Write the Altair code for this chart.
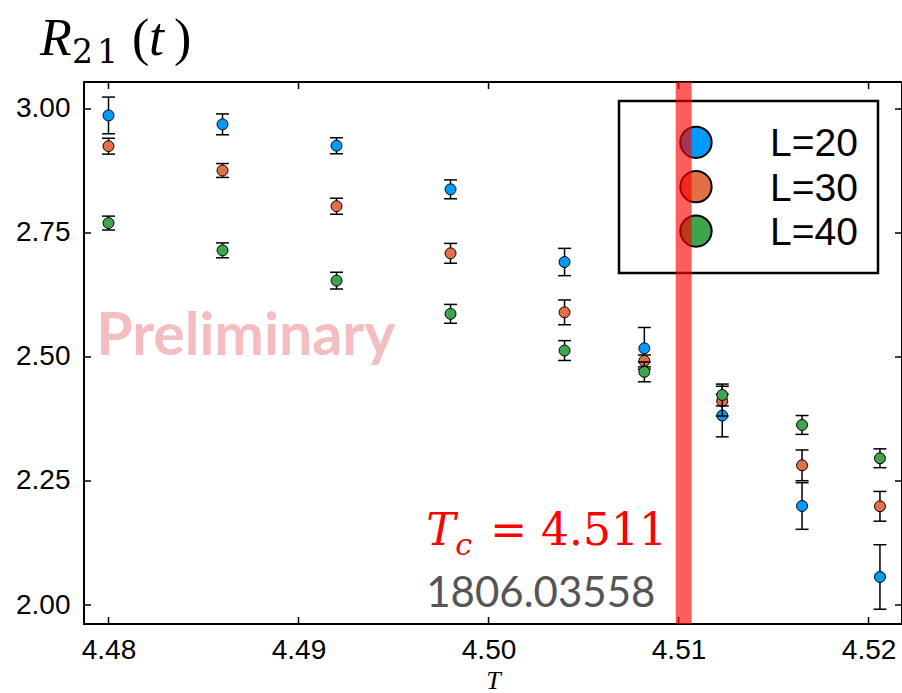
import altair as alt
import pandas as pd

# ---- data ----
T_vals = [4.480, 4.486, 4.492, 4.498, 4.504, 4.5082, 4.5123, 4.5165, 4.5206]
L20 = [2.987, 2.969, 2.926, 2.838, 2.6915, 2.5175, 2.382, 2.1996, 2.0565]
L20_err = [0.037, 0.021, 0.016, 0.019, 0.0275, 0.042, 0.043, 0.047, 0.065]
L30 = [2.925, 2.876, 2.804, 2.709, 2.590, 2.492, 2.411, 2.2816, 2.199]
L30_err = [0.016, 0.014, 0.016, 0.020, 0.025, 0.012, 0.030, 0.031, 0.030]
L40 = [2.770, 2.715, 2.654, 2.587, 2.513, 2.470, 2.4234, 2.363, 2.2958]
L40_err = [0.014, 0.015, 0.017, 0.019, 0.020, 0.020, 0.022, 0.019, 0.019]
series_names = ["L=20", "L=30", "L=40"]
series_colors = ["#009AFA", "#E36F47", "#3EA44E"]
x_ticks = [4.48, 4.49, 4.50, 4.51, 4.52]
y_ticks = [2.00, 2.25, 2.50, 2.75, 3.00]
band_T = [4.50985, 4.51069]

W, H = 818, 542

rows = []
for name, vals, errs in zip(series_names, [L20, L30, L40], [L20_err, L30_err, L40_err]):
    for t, v, e in zip(T_vals, vals, errs):
        rows.append({"T": t, "R": v, "lo": v - e, "hi": v + e, "L": name})
df = pd.DataFrame(rows)

xscale = alt.Scale(domain=[4.47871, 4.52176], nice=False, zero=False)
yscale = alt.Scale(domain=[1.9617, 3.0544], nice=False, zero=False)
cscale = alt.Scale(domain=series_names, range=series_colors)

xaxis = alt.Axis(values=x_ticks, format=".2f", title="T", labelPadding=12,
                 titleFont="Liberation Serif", titleFontStyle="italic",
                 titleFontWeight="normal", titleFontSize=26, titlePadding=3,
                 labelFlush=False, labelOverlap=False)
yaxis = alt.Axis(values=y_ticks, format=".2f", title=None, labelPadding=14,
                 labelFlush=False, labelOverlap=False)

def X(field):
    return alt.X(field, scale=xscale, axis=xaxis)

def Y(field):
    return alt.Y(field, scale=yscale, axis=yaxis)

base = alt.Chart(df)
layers = []
for name in series_names:
    sub = base.transform_filter(alt.datum.L == name)
    layers.append(sub.mark_rule(color="black", strokeWidth=1.5).encode(
        x=X("T:Q"), y=Y("lo:Q"), y2="hi:Q"))
    for f in ["lo", "hi"]:
        layers.append(sub.mark_tick(color="black", orient="horizontal", size=13,
                                    thickness=1.5, opacity=1).encode(
            x=X("T:Q"), y=Y(f + ":Q")))
    layers.append(sub.mark_circle(size=120, stroke="black", strokeWidth=1,
                                  opacity=1).encode(
        x=X("T:Q"), y=Y("R:Q"),
        color=alt.Color("L:N", scale=cscale, legend=None)))

# inward ticks on all four sides
xt = alt.Chart(pd.DataFrame({"T": x_ticks}))
yt = alt.Chart(pd.DataFrame({"R": y_ticks}))
for y0, y1 in [(H - 7, H), (0, 7)]:
    layers.append(xt.mark_rule(color="black", strokeWidth=1.5).encode(
        x=X("T:Q"), y=alt.value(y0), y2=alt.value(y1)))
for x0, x1 in [(0, 7), (W - 7, W)]:
    layers.append(yt.mark_rule(color="black", strokeWidth=1.5).encode(
        y=Y("R:Q"), x=alt.value(x0), x2=alt.value(x1)))

def txt(s, **kw):
    return alt.Chart(pd.DataFrame({"s": [s]})).mark_text(align="left", baseline="alphabetic", **kw)

# ---- legend box (drawn as marks so the T_c band can overlay it) ----
layers.append(alt.Chart(pd.DataFrame({"s": ["box"]})).mark_rect(
    fill="white", stroke="black", strokeWidth=2.5).encode(
    x=alt.value(535), x2=alt.value(794), y=alt.value(19), y2=alt.value(191)))
for i, name in enumerate(series_names):
    yc = 60.3 + 44.4 * i
    ldf = pd.DataFrame({"L": [name]})
    layers.append(alt.Chart(ldf).mark_circle(size=980, stroke="black", strokeWidth=2,
                                             opacity=1).encode(
        x=alt.value(612), y=alt.value(yc),
        color=alt.Color("L:N", scale=cscale, legend=None)))
    layers.append(alt.Chart(ldf).mark_text(align="left", baseline="middle",
                                           font="Liberation Sans", fontSize=39,
                                           color="black", dy=2).encode(
        x=alt.value(686), y=alt.value(yc), text="L:N"))

# red band at T_c (on top of the legend)
band = alt.Chart(pd.DataFrame({"T": [band_T[0]], "T2": [band_T[1]]})).mark_rect(
    color="#FF0000", opacity=0.64).encode(x=X("T:Q"), x2="T2:Q")
layers.append(band)

# annotations in data coordinates
layers.append(txt("Preliminary", font="Lato", fontWeight="bold", fontSize=59,
                  color="#F4BEC0").encode(x=alt.datum(4.47935), y=alt.datum(2.504), text="s:N"))
layers.append(txt("T", font="DejaVu Serif", fontStyle="italic", fontSize=44,
                  color="#FF0000").encode(x=alt.datum(4.49672), y=alt.datum(2.121), text="s:N"))
layers.append(txt("c", font="DejaVu Serif", fontStyle="italic", fontSize=30,
                  color="#FF0000", dx=29, dy=10).encode(x=alt.datum(4.49672), y=alt.datum(2.121), text="s:N"))
layers.append(txt("= 4.511", font="DejaVu Serif", fontSize=44,
                  color="#FF0000", dx=64).encode(x=alt.datum(4.49672), y=alt.datum(2.121), text="s:N"))
layers.append(txt("1806.03558", font="Lato", fontSize=42,
                  color="#555555").encode(x=alt.datum(4.49672), y=alt.datum(1.996), text="s:N"))

# title R_21(t)
layers.append(txt("R", font="Liberation Serif", fontStyle="italic", fontSize=52,
                  color="black").encode(x=alt.value(-44), y=alt.value(-27), text="s:N"))
layers.append(txt("2", font="DejaVu Serif", fontSize=33,
                  color="black").encode(x=alt.value(-12), y=alt.value(-19), text="s:N"))
layers.append(txt("1", font="DejaVu Serif", fontSize=33,
                  color="black").encode(x=alt.value(13), y=alt.value(-19), text="s:N"))
layers.append(txt("(", font="Liberation Serif", fontSize=52,
                  color="black").encode(x=alt.value(48), y=alt.value(-27), text="s:N"))
layers.append(txt("t", font="Liberation Serif", fontStyle="italic", fontSize=54,
                  color="black").encode(x=alt.value(65), y=alt.value(-27), text="s:N"))
layers.append(txt(")", font="Liberation Serif", fontSize=52,
                  color="black").encode(x=alt.value(90), y=alt.value(-27), text="s:N"))

chart = alt.layer(*layers).properties(
    width=W, height=H,
    autosize=alt.AutoSizeParams(type="none"),
    padding={"left": 84, "top": 82, "right": 0, "bottom": 69},
    background="white",
).configure_view(stroke="black", strokeWidth=2).configure_axis(
    grid=False, ticks=False, domain=False,
    labelFont="Liberation Sans", labelFontSize=28, labelColor="black",
    titleColor="black",
)

chart.save("out.html", embed_options={"renderer": "svg", "actions": False})
